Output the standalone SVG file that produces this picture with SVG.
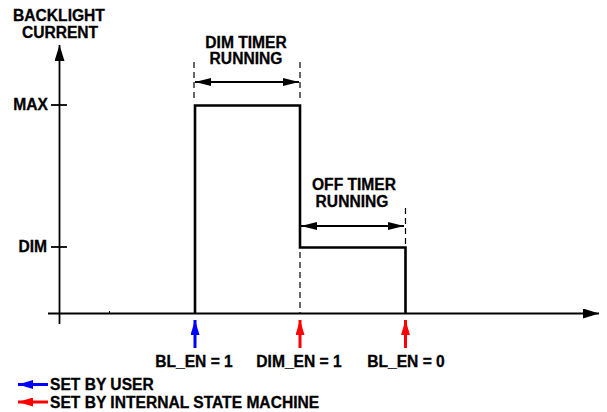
<svg xmlns="http://www.w3.org/2000/svg" width="607" height="412" viewBox="0 0 607 412">
<style>
text{font-family:"Liberation Sans",Arial,sans-serif;font-weight:bold;font-size:15.6px;fill:#000;stroke:#000;stroke-width:0.3}
.c{text-anchor:middle}
.e{text-anchor:end}
.ax{stroke:#000;stroke-width:1.8;fill:none}
.pl{stroke:#000;stroke-width:2.6;fill:none}
.ds{stroke:#000;stroke-width:1.2;stroke-dasharray:6 4;fill:none}
.dim{stroke:#000;stroke-width:2.2;fill:none}
</style>
<defs>
<marker id="ah" viewBox="0 0 16 10" refX="16" refY="5" markerWidth="16" markerHeight="10" markerUnits="userSpaceOnUse" orient="auto-start-reverse"><path d="M0,1 L16,5 L0,9 Z" fill="#000"/></marker>
<marker id="axh" viewBox="0 0 16 10" refX="16" refY="5" markerWidth="16" markerHeight="10" markerUnits="userSpaceOnUse" orient="auto"><path d="M0,0 L16,5 L0,10 Z" fill="#000"/></marker>
<marker id="bh" viewBox="0 0 15 9" refX="15" refY="4.5" markerWidth="15" markerHeight="9" markerUnits="userSpaceOnUse" orient="auto"><path d="M0,0 L15,4.5 L0,9 Z" fill="#0000ff"/></marker>
<marker id="rh" viewBox="0 0 15 9" refX="15" refY="4.5" markerWidth="15" markerHeight="9" markerUnits="userSpaceOnUse" orient="auto"><path d="M0,0 L15,4.5 L0,9 Z" fill="#ff0000"/></marker>
</defs>
<g id="axes">
<line class="ax" x1="59.5" y1="324" x2="59.5" y2="45" marker-end="url(#axh)"/>
<line class="ax" x1="48" y1="313.5" x2="599" y2="313.5" marker-end="url(#axh)"/>
<line class="ax" x1="51" y1="105" x2="67" y2="105"/>
<line class="ax" x1="51" y1="247" x2="67" y2="247"/>
<line stroke="#000" stroke-width="1" x1="109.5" y1="311" x2="109.5" y2="313"/>
<text class="c" x="59" y="21">BACKLIGHT</text>
<text class="c" x="60" y="38">CURRENT</text>
<text class="e" x="48" y="110">MAX</text>
<text class="e" x="47" y="252">DIM</text>
</g>
<g id="pulse">
<path class="pl" d="M195,313.5 V105.5 H300 V247.5 H405.5 V313.5"/>
</g>
<g id="connectors">
<line class="ds" x1="194" y1="62" x2="194" y2="100"/>
<line class="ds" x1="300" y1="62" x2="300" y2="100"/>
<line class="ds" x1="300" y1="252" x2="300" y2="313"/>
<line class="ds" x1="405.5" y1="208" x2="405.5" y2="247"/>
<line class="dim" x1="195" y1="82" x2="299" y2="82" marker-start="url(#ah)" marker-end="url(#ah)"/>
<line class="dim" x1="301" y1="226" x2="404" y2="226" marker-start="url(#ah)" marker-end="url(#ah)"/>
<line stroke="#0000ff" stroke-width="3" x1="195" y1="348" x2="195" y2="320" marker-end="url(#bh)"/>
<line stroke="#ff0000" stroke-width="3" x1="300" y1="348" x2="300" y2="320" marker-end="url(#rh)"/>
<line stroke="#ff0000" stroke-width="3" x1="405.5" y1="348" x2="405.5" y2="320" marker-end="url(#rh)"/>
<line stroke="#0000ff" stroke-width="3" x1="48" y1="384.5" x2="18" y2="384.5" marker-end="url(#bh)"/>
<line stroke="#ff0000" stroke-width="3" x1="48" y1="402" x2="18" y2="402" marker-end="url(#rh)"/>
</g>
<g id="dim-timer"><text class="c" x="246" y="48">DIM TIMER</text><text class="c" x="246" y="64">RUNNING</text></g>
<g id="off-timer"><text class="c" x="354" y="190">OFF TIMER</text><text class="c" x="352" y="207">RUNNING</text></g>
<g id="bl-en-1"><text class="c" x="194" y="367">BL_EN = 1</text></g>
<g id="dim-en-1"><text class="c" x="299" y="367">DIM_EN = 1</text></g>
<g id="bl-en-0"><text class="c" x="406" y="367">BL_EN = 0</text></g>
<g id="legend">
<text x="50" y="390">SET BY USER</text>
<text x="50" y="408">SET BY INTERNAL STATE MACHINE</text>
</g>
</svg>
